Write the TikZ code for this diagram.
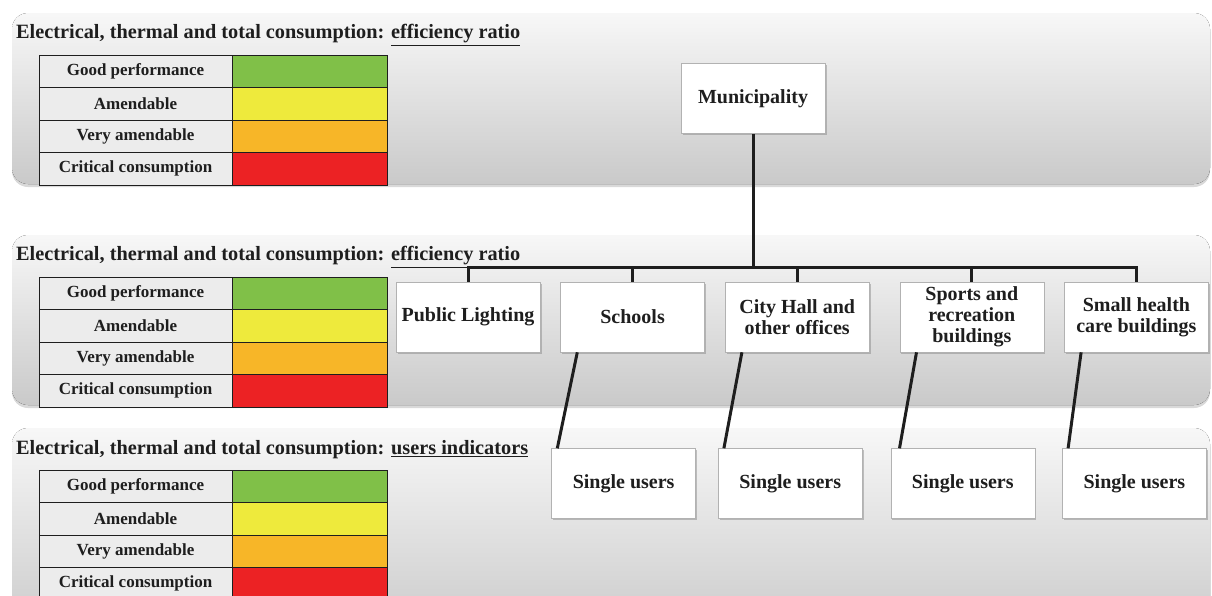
\documentclass[tikz,border=0pt]{standalone}
\usepackage{fontspec}
\setmainfont{Liberation Serif}
\usetikzlibrary{positioning, shadows}

\definecolor{good}{RGB}{128,192,72}
\definecolor{amend}{RGB}{238,234,60}
\definecolor{veryamend}{RGB}{247,182,40}
\definecolor{critical}{RGB}{236,34,36}
\definecolor{ink}{RGB}{30,30,30}

\begin{document}
\begin{tikzpicture}[x=1pt,y=-1pt,node distance=20pt]
  \tikzstyle{band}=[rounded corners=16pt, top color=gray!6, bottom color=gray!42,
                    drop shadow={shadow xshift=0pt, shadow yshift=-3pt, opacity=.3}]
  \tikzstyle{headline}=[anchor=west, inner sep=0pt, text=ink,
                        font=\fontsize{20.3}{22}\selectfont\bfseries]
  \tikzstyle{cell}=[draw=ink, line width=0.8pt, outer sep=0pt, inner sep=0pt,
                    minimum width=193pt, minimum height=32.5pt, fill=gray!15, text=ink,
                    font=\fontsize{17}{19}\selectfont\bfseries]
  \tikzstyle{swatch}=[draw=ink, line width=0.8pt, outer sep=0pt, inner sep=0pt,
                      minimum width=155pt, minimum height=32.5pt]
  \tikzstyle{unit}=[draw=gray!60, fill=white, line width=0.6pt, align=center,
                    minimum width=144pt, minimum height=70pt, inner sep=2pt, text=ink,
                    font=\fontsize{20}{21}\selectfont\bfseries,
                    drop shadow={shadow xshift=1.5pt, shadow yshift=-1.5pt, opacity=.45}]
  \tikzstyle{link}=[draw=ink, line width=3pt]

  \useasboundingbox (0,0) rectangle (1212,595);
  \clip (0,0) rectangle (1212,595);

  \fill[band] (12,13) rectangle (1210,184);
  \fill[band] (12,235) rectangle (1210,405);
  \fill[band] (12,428) rectangle (1210,640);

  \node[headline] (h1) at (16,35)  {Electrical, thermal and total consumption: \underline{efficiency ratio}};
  \node[headline] (h2) at (16,257) {Electrical, thermal and total consumption: \underline{efficiency ratio}};
  \node[headline] (h3) at (16,450) {Electrical, thermal and total consumption: \underline{users indicators}};

  \foreach \t/\top in {1/55, 2/277, 3/470} {
    \foreach \lbl/\col [count=\r] in {Good performance/good, Amendable/amend,
                                       Very amendable/veryamend, Critical consumption/critical} {
      \node[cell] (lab\t\r) at (135.5, \top+32.5*\r-16.25) {\lbl};
      \node[swatch, fill=\col, right=0pt of lab\t\r] (sw\t\r) {};
    }
  }

  \node[unit] (mun) at (753,98.5) {Municipality};

  \node[unit] (pl)  at (468,317)       {Public Lighting};
  \node[unit] (sch) [right=of pl]      {Schools};
  \node[unit] (ch)  [right=of sch]     {City Hall and\\other offices};
  \node[unit] (sp)  [right=30pt of ch] {Sports and\\recreation\\buildings};
  \node[unit] (sh)  [right=of sp]      {Small health\\care buildings};

  \node[unit] (u1) [below=96pt of sch, xshift=-9pt] {Single users};
  \node[unit] (u2) [below=96pt of ch,  xshift=-7pt] {Single users};
  \node[unit] (u3) [below=96pt of sp,  xshift=-9pt] {Single users};
  \node[unit] (u4) [below=96pt of sh,  xshift=-2pt] {Single users};

  \coordinate (bus) at (753,267);
  \draw[link] (mun.south) -- (bus);
  \draw[link] (pl.north) |- (bus) -| (sh.north);
  \foreach \n in {sch, ch, sp}
    \draw[link] (\n.north |- bus) -- (\n.north);

  \draw[link] ([xshift=17pt]sch.south west) -- ([xshift=6pt]u1.north west);
  \draw[link] ([xshift=17pt]ch.south west)  -- ([xshift=6pt]u2.north west);
  \draw[link] ([xshift=17pt]sp.south west)  -- ([xshift=9pt]u3.north west);
  \draw[link] ([xshift=17pt]sh.south west)  -- ([xshift=6pt]u4.north west);
\end{tikzpicture}
\end{document}
